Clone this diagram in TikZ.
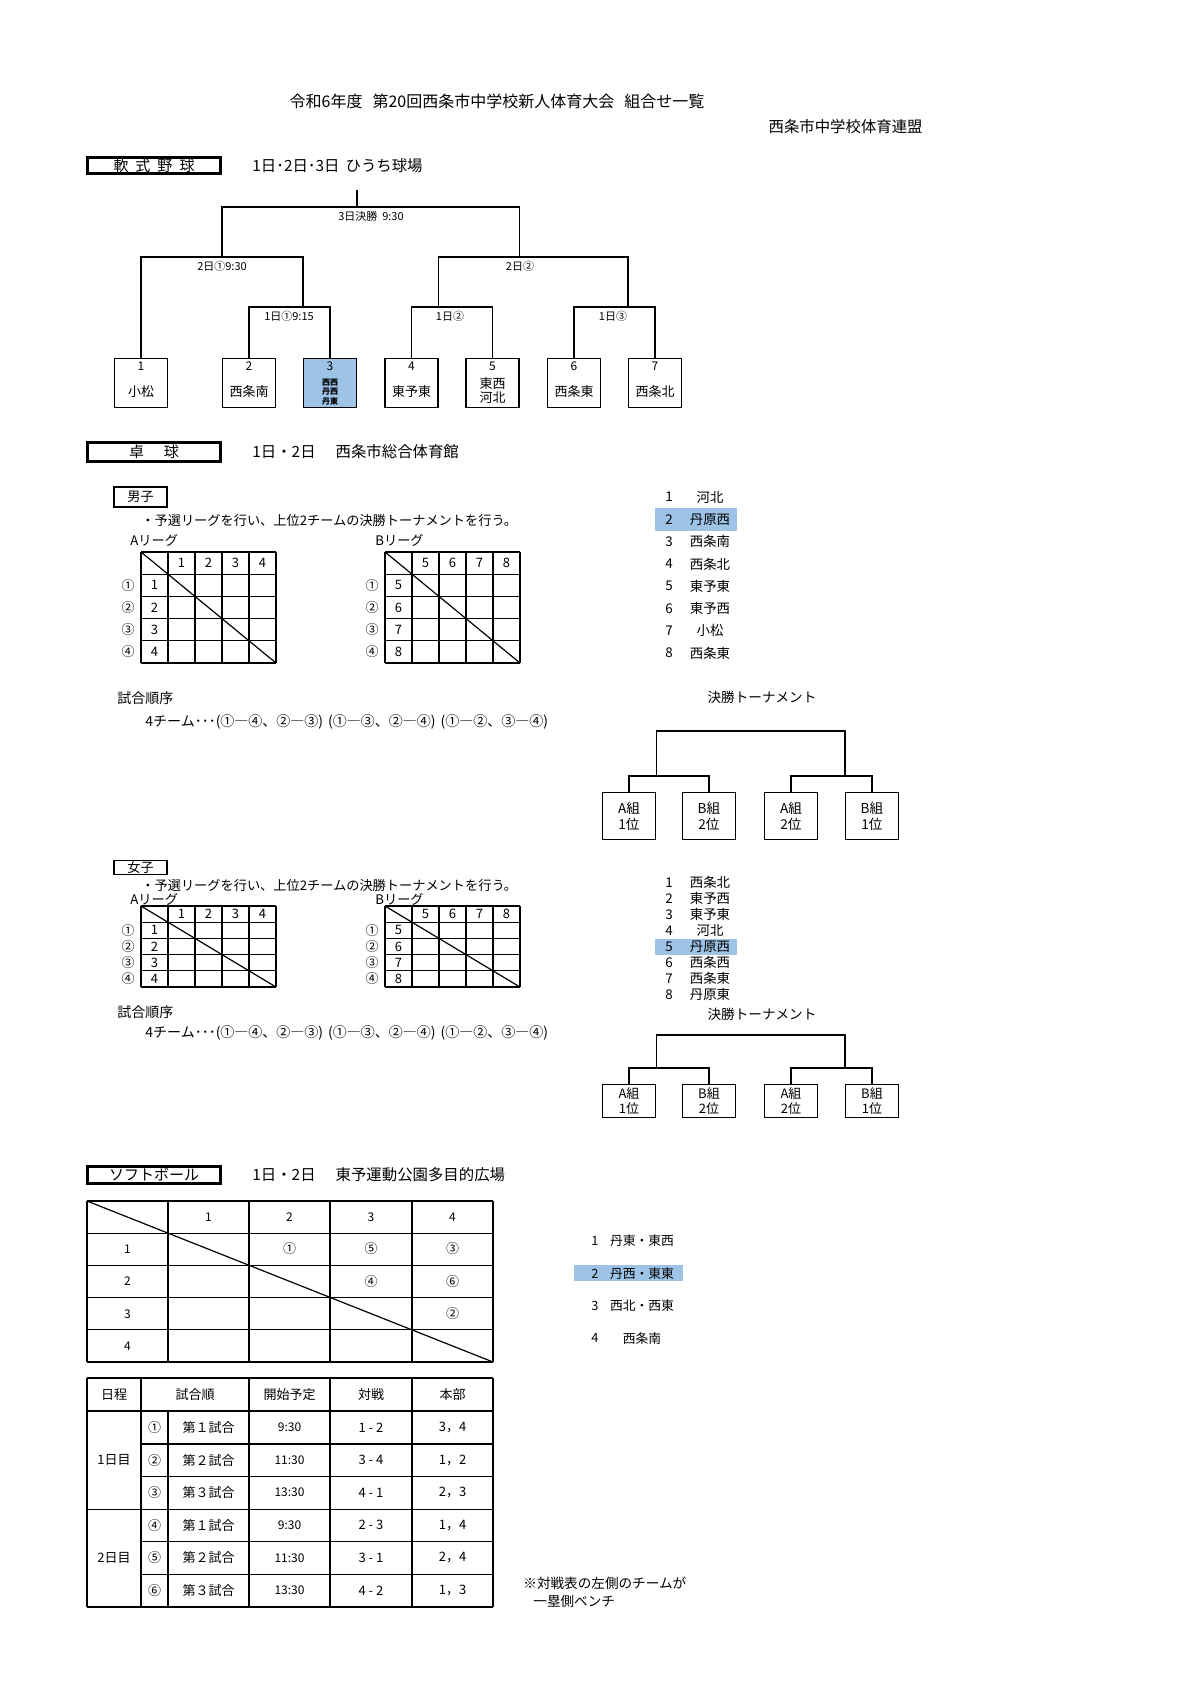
\documentclass[tikz,border=0pt]{standalone}
\usepackage{fontspec}
\setmainfont{Noto Sans CJK JP}
\usetikzlibrary{calc}
\definecolor{hl}{HTML}{9DC3E6}
\newcommand\myfs[1]{\fontsize{#1pt}{#1pt}\selectfont}
\newcommand\cnum[1]{\ifcase#1\or ①\or ②\or ③\or ④\or ⑤\or ⑥\fi}
\newcommand\seqline{4チーム･･･(①―④、②―③)\hspace{2.5pt}(①―③、②―④)\hspace{2.5pt}(①―②、③―④)}
\tikzset{
  ln/.style={line width=0.6pt},
  hdr/.style={draw, line width=1.5pt, minimum width=66.5pt, inner sep=0pt, font=\myfs{7.5}},
  bbox/.style={draw, line width=0.6pt, minimum width=26.5pt, minimum height=24.5pt, inner sep=0pt},
  tbox/.style={draw, line width=0.6pt, minimum width=26.5pt, inner sep=0pt, align=center, font=\fontsize{6.5pt}{7.5pt}\selectfont},
  lbl/.style={inner sep=0pt, font=\myfs{5.5}},
  num/.style={inner sep=0pt, font=\myfs{6.5}},
  lst/.style={inner sep=0pt, font=\myfs{6.7}},
  txt/.style={inner sep=0pt, anchor=west, font=\myfs{6.6}},
  big/.style={inner sep=0pt, anchor=west, font=\myfs{7.7}},
  cell/.style={inner sep=0pt, font=\myfs{6.5}},
}
\newcommand\lgtab[5]{%
  \begin{scope}[shift={(#1,#2)}]
    \foreach \i in {0,...,5} \draw[ln] (\i*27,0) -- (\i*27,5*#3);
    \foreach \j in {0,...,5} \draw[ln] (0,\j*#3) -- (135,\j*#3);
    \draw[ln] (0,0) -- (135,5*#3);
    \foreach \k in {1,...,4} {
      \pgfmathtruncatemacro\nn{\k+#4}
      \node[num] (#5c\k) at (\k*27+13.5,0.5*#3) {\nn};
      \node[num] (#5r\k) at (13.5,\k*#3+0.5*#3) {\nn};
      \node[num] (#5o\k) at (-13,\k*#3+0.5*#3) {\cnum{\k}};
    }
  \end{scope}}
\begin{document}
\begin{tikzpicture}[x=0.5pt,y=-0.5pt]
\fill[white] (0,0) rectangle (1200,1698);
\useasboundingbox (0,0) rectangle (1200,1698);

% ---------- title ----------
\node[inner sep=0pt, font=\myfs{8}] (title) at (497,101) {令和6年度\hspace{5pt}第20回西条市中学校新人体育大会\hspace{5pt}組合せ一覧};
\node[inner sep=0pt, font=\myfs{7.7}, anchor=east] (org) at (923,127) {西条市中学校体育連盟};

% ---------- baseball ----------
\node[hdr, minimum height=8pt] (h1) at (154,165.5) {軟\hspace{3.5pt}式\hspace{3.5pt}野\hspace{3.5pt}球};
\node[big] (d1) at (252,166) {1日･2日･3日\hspace{3pt}ひうち球場};

\node[bbox] (b1) at (141,383) {};
\node[bbox] (b2) at (249,383) {};
\node[bbox, fill=hl] (b3) at (330,383) {};
\node[bbox] (b4) at (411.5,383) {};
\node[bbox] (b5) at (492.5,383) {};
\node[bbox] (b6) at (574,383) {};
\node[bbox] (b7) at (655,383) {};
\foreach \p/\nm [count=\i] in {141/b1,249/b2,330/b3,411.5/b4,492.5/b5,574/b6,655/b7}
  \node[inner sep=0pt, font=\myfs{6}] (\nm n) at (\p,366) {\i};
\node[num] (b1t) at (141,392) {小松};
\node[num] (b2t) at (249,392) {西条南};
\node[inner sep=0pt, align=center, font=\fontsize{4pt}{4.75pt}\selectfont\bfseries] (b3t) at (330,392) {西西\\丹西\\丹東};
\node[num] (b4t) at (411.5,392) {東予東};
\node[inner sep=0pt, align=center, font=\fontsize{6.5pt}{7pt}\selectfont] (b5t) at (492.5,391) {東西\\河北};
\node[num] (b6t) at (574,392) {西条東};
\node[num] (b7t) at (655,392) {西条北};

\coordinate (m1) at (289.5,307);
\coordinate (m2) at (222,257);
\coordinate (m4) at (452,307);
\coordinate (m5) at (615,307);
\coordinate (m6) at (533,257);
\coordinate (m7) at (371,207);
\coordinate (stem) at (357,190);
\draw[ln] (b2.north) |- (m1) -| (b3.north);
\draw[ln] (b1.north) |- (m2) -| (b3.north west |- m1);
\draw[ln] (b4.north) |- (m4) -| (b5.north);
\draw[ln] (b6.north) |- (m5) -| (b7.north);
\draw[ln] (b4.north east |- m4) |- (m6) -| (b7.north west |- m5);
\draw[ln] (b2.north west |- m2) |- (m7) -| (b5.north east |- m6);
\draw[ln] (stem) -- (stem |- m7);

\node[lbl] (l1) at (371,216) {3日決勝\ \ 9:30};
\node[lbl] (l2) at (222,266) {2日①9:30};
\node[lbl] (l3) at (520,266) {2日②};
\node[lbl] (l4) at (289,316) {1日①9:15};
\node[lbl] (l5) at (450,316) {1日②};
\node[lbl] (l6) at (613,316) {1日③};

% ---------- table tennis ----------
\node[hdr, minimum height=9.5pt] (h2) at (154,452) {卓\hspace{10pt}球};
\node[big] (d2) at (252,452) {1日・2日\hspace{10pt}西条市総合体育館};

% boys
\node[draw, line width=0.6pt, minimum width=26.5pt, minimum height=10pt, inner sep=0pt, font=\myfs{6.6}] (boys) at (140.5,497) {男子};
\node[txt] (bnote) at (141,520) {・予選リーグを行い、上位2チームの決勝トーナメントを行う。};
\node[txt] (bA) at (130,540) {Aリーグ};
\node[txt] (bB) at (375,540) {Bリーグ};
\lgtab{141}{552}{22.2}{0}{ba}
\lgtab{385}{552}{22.2}{4}{bb}

\fill[hl] (655,508) rectangle (737,531);
\foreach \nm [count=\i] in {河北,丹原西,西条南,西条北,東予東,東予西,小松,西条東} {
  \node[lst] (bln\i) at (669,{497+(\i-1)*22.3}) {\i};
  \node[lst] (bl\i) at (710,{497+(\i-1)*22.3}) {\nm};
}

\node[txt, font=\myfs{7}] (bord) at (117,698) {試合順序};
\node[txt, font=\myfs{7}] (bseq) at (145,722) {\seqline};

\node[inner sep=0pt, font=\myfs{6.8}] (btt) at (762,697) {決勝トーナメント};
\tikzset{tbb/.style={tbox, minimum height=23.5pt, font=\fontsize{6.8pt}{8.2pt}\selectfont}}
\node[tbb] (tb1) at (629,816) {A組\\1位};
\node[tbb] (tb2) at (709,816) {B組\\2位};
\node[tbb] (tb3) at (791,816) {A組\\2位};
\node[tbb] (tb4) at (872,816) {B組\\1位};
\coordinate (tbs1) at (669,776);
\coordinate (tbs2) at (831,776);
\coordinate (tbt) at (751,731);
\draw[ln] (tb1.north) |- (tbs1) -| (tb2.north);
\draw[ln] (tb3.north) |- (tbs2) -| (tb4.north);
\draw[ln] (tb1.north east |- tbs1) |- (tbt) -| (tb4.north west |- tbs2);

% girls
\node[draw, line width=0.6pt, minimum width=26.5pt, minimum height=7pt, inner sep=0pt, font=\myfs{6.6}] (girls) at (140.5,867.5) {女子};
\node[txt] (gnote) at (141,885) {・予選リーグを行い、上位2チームの決勝トーナメントを行う。};
\node[txt] (gA) at (130,899) {Aリーグ};
\node[txt] (gB) at (375,899) {Bリーグ};
\lgtab{141}{906}{16.2}{0}{ga}
\lgtab{385}{906}{16.2}{4}{gb}

\fill[hl] (655,938.5) rectangle (737,954.5);
\foreach \nm [count=\i] in {西条北,東予西,東予東,河北,丹原西,西条西,西条東,丹原東} {
  \node[lst] (gln\i) at (669,{882.5+(\i-1)*16.05}) {\i};
  \node[lst] (gl\i) at (710,{882.5+(\i-1)*16.05}) {\nm};
}

\node[txt, font=\myfs{7}] (gord) at (117,1012) {試合順序};
\node[txt, font=\myfs{7}] (gseq) at (145,1033) {\seqline};

\node[inner sep=0pt, font=\myfs{6.8}] (gtt) at (762,1014) {決勝トーナメント};
\node[tbox, minimum height=16.5pt] (tg1) at (629,1101) {A組\\1位};
\node[tbox, minimum height=16.5pt] (tg2) at (709,1101) {B組\\2位};
\node[tbox, minimum height=16.5pt] (tg3) at (791,1101) {A組\\2位};
\node[tbox, minimum height=16.5pt] (tg4) at (872,1101) {B組\\1位};
\coordinate (tgs1) at (669,1068);
\coordinate (tgs2) at (831,1068);
\coordinate (tgt) at (751,1035);
\draw[ln] (tg1.north) |- (tgs1) -| (tg2.north);
\draw[ln] (tg3.north) |- (tgs2) -| (tg4.north);
\draw[ln] (tg1.north east |- tgs1) |- (tgt) -| (tg4.north west |- tgs2);

% ---------- softball ----------
\node[hdr, minimum height=8.5pt] (h3) at (154,1175) {ソフトボール};
\node[big] (d3) at (252,1175) {1日・2日\hspace{10pt}東予運動公園多目的広場};

\foreach \x in {87,168,249,330,412,493} \draw[ln] (\x,1201) -- (\x,1362);
\foreach \y in {1201,1233.2,1265.4,1297.6,1329.8,1362} \draw[ln] (87,\y) -- (493,\y);
\draw[ln] (87,1201) -- (493,1362);
\foreach \x [count=\i] in {208.5,289.5,371,452.5} \node[inner sep=0pt, font=\myfs{6}] (sc\i) at (\x,1217) {\i};
\foreach \y [count=\i] in {1249,1281.5,1314,1346} \node[inner sep=0pt, font=\myfs{6}] (sr\i) at (127.5,\y) {\i};
\node[cell] (s12) at (289.5,1249) {①};
\node[cell] (s13) at (371,1249) {⑤};
\node[cell] (s14) at (452.5,1249) {③};
\node[cell] (s23) at (371,1281.5) {④};
\node[cell] (s24) at (452.5,1281.5) {⑥};
\node[cell] (s34) at (452.5,1314) {②};

\fill[hl] (574,1265) rectangle (683,1281);
\foreach \nm [count=\i] in {丹東・東西,丹西・東東,西北・西東,西条南} {
  \node[inner sep=0pt, font=\myfs{6.4}] (sln\i) at (595,{1241+(\i-1)*32.4}) {\i};
  \node[inner sep=0pt, font=\myfs{6.4}] (sl\i) at (642,{1241+(\i-1)*32.4}) {\nm};
}

% schedule table
\draw[ln] (87,1378) -- (493,1378);
\draw[ln] (87,1411) -- (493,1411);
\foreach \y in {1444,1476.6,1541.8,1574.4} \draw[ln] (141,\y) -- (493,\y);
\draw[ln] (87,1509.2) -- (493,1509.2);
\draw[ln] (87,1607) -- (493,1607);
\foreach \x in {87,141,249,330,412,493} \draw[ln] (\x,1378) -- (\x,1607);
\draw[ln] (168,1411) -- (168,1607);

\node[cell] (th1) at (114,1394.5) {日程};
\node[cell] (th2) at (195,1394.5) {試合順};
\node[cell] (th3) at (289.5,1394.5) {開始予定};
\node[cell] (th4) at (371,1394.5) {対戦};
\node[cell] (th5) at (452.5,1394.5) {本部};
\node[cell] (dy1) at (114,1460.3) {1日目};
\node[cell] (dy2) at (114,1558.1) {2日目};
\foreach \g/\t/\m/\h [count=\i] in {１/9:30/1 - 2/3，4, ２/11:30/3 - 4/1，2, ３/13:30/4 - 1/2，3, １/9:30/2 - 3/1，4, ２/11:30/3 - 1/2，4, ３/13:30/4 - 2/1，3} {
  \node[cell] (rc\i) at (154.5,{1427.5+(\i-1)*32.6}) {\cnum{\i}};
  \node[cell] (rg\i) at (208.5,{1427.5+(\i-1)*32.6}) {第\g 試合};
  \node[inner sep=0pt, font=\myfs{6}] (rt\i) at (289.5,{1427.5+(\i-1)*32.6}) {\t};
  \node[cell] (rm\i) at (371,{1427.5+(\i-1)*32.6}) {\m};
  \node[cell] (rh\i) at (452.5,{1427.5+(\i-1)*32.6}) {\h};
}

\node[txt, font=\myfs{6.8}] (note1) at (523,1583) {※対戦表の左側のチームが};
\node[txt, font=\myfs{6.8}] (note2) at (533,1601) {一塁側ベンチ};
\end{tikzpicture}
\end{document}
